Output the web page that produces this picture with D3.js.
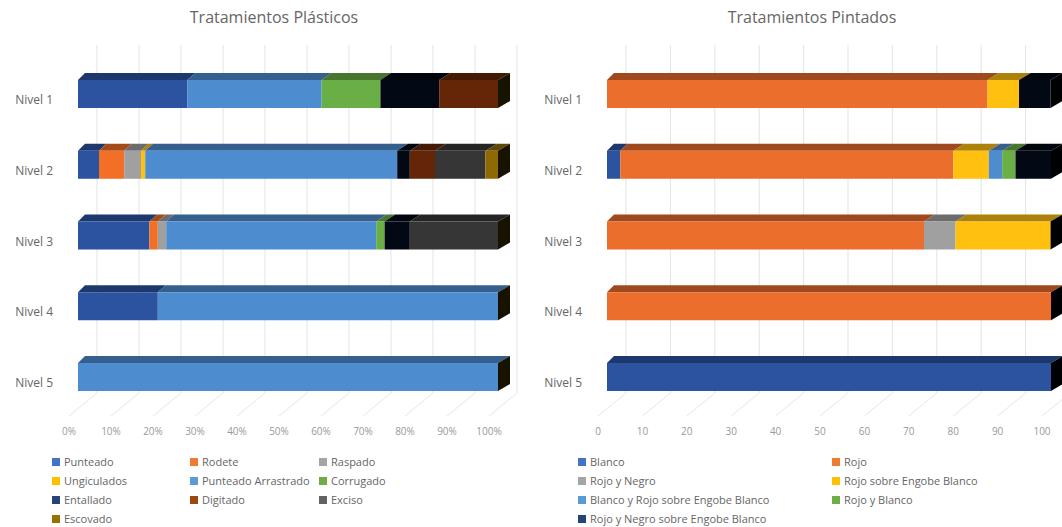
<!DOCTYPE html>
<html>
<head>
<meta charset="utf-8">
<script src="https://cdn.jsdelivr.net/npm/d3@7"></script>
<style>
  body { margin: 0; background: #fff; }
  text { font-family: "Open Sans", sans-serif; }
</style>
</head>
<body>
<svg id="chart" width="1062" height="527"></svg>
<script>
// categories
var niveles = ["Nivel 1", "Nivel 2", "Nivel 3", "Nivel 4", "Nivel 5"];
var ticks = [0, 10, 20, 30, 40, 50, 60, 70, 80, 90, 100];

// Tratamientos Plasticos (% per nivel)
var plasticosSeries = ["Punteado", "Rodete", "Raspado", "Ungiculados", "Punteado Arrastrado",
                       "Corrugado", "Entallado", "Digitado", "Exciso", "Escovado"];
var punteado           = [26,  5, 17, 19,   0];
var rodete             = [ 0,  6,  2,  0,   0];
var raspado            = [ 0,  4,  2,  0,   0];
var ungiculados        = [ 0,  1,  0,  0,   0];
var punteadoArrastrado = [32, 60, 50, 81, 100];
var corrugado          = [14,  0,  2,  0,   0];
var entallado          = [14,  3,  6,  0,   0];
var digitado           = [14,  6,  0,  0,   0];
var exciso             = [ 0, 12, 21,  0,   0];
var escovado           = [ 0,  3,  0,  0,   0];

// Tratamientos Pintados
var pintadosSeries = ["Blanco", "Rojo", "Rojo y Negro", "Rojo sobre Engobe Blanco",
                      "Blanco y Rojo sobre Engobe Blanco", "Rojo y Blanco", "Rojo y Negro sobre Engobe Blanco"];
var blanco          = [  0,  3,    0,   0, 100];
var rojo            = [85.7, 75, 71.4, 100,   0];
var rojoNegro       = [  0,  0,  7.1,   0,   0];
var rojoEngobe      = [7.1,  8, 21.4,   0,   0];
var blancoRojoEng   = [  0,  3,    0,   0,   0];
var rojoBlanco      = [  0,  3,    0,   0,   0];
var rojoNegroEng    = [7.1,  8,    0,   0,   0];

var svg = d3.select("#chart");

function drawChart(cfg)
{
    var g = svg.append("g");
    var x = d3.scaleLinear().domain([0, 100]).range([cfg.x0, cfg.x1]);
    var y = d3.scalePoint().domain(niveles).range([94, 377]);
    var barH = 28, depthY = 7, wallOff = 19;
    // a bit of perspective: depth shift grows to the right
    var dx = function(px){ return 7 + 5 * (px - cfg.x0) / (cfg.x1 - cfg.x0); };

    // back wall gridlines
    g.selectAll("line.grid").data(ticks).enter().append("line")
        .attr("class", "grid")
        .attr("x1", function(d){ return x(d) + wallOff; })
        .attr("x2", function(d){ return x(d) + wallOff; })
        .attr("y1", 45).attr("y2", 393)
        .attr("stroke", "#e3e3e3").attr("stroke-width", 1);

    // floor lines
    g.selectAll("line.floor").data(ticks).enter().append("line")
        .attr("class", "floor")
        .attr("x1", function(d){ return x(d) + wallOff; })
        .attr("x2", function(d){ return x(d) + wallOff - 28; })
        .attr("y1", 393).attr("y2", 416)
        .attr("stroke", "#e6e6e6").attr("stroke-width", 1);

    g.selectAll("text.tick").data(ticks).enter().append("text")
        .attr("class", "tick")
        .attr("x", function(d){ return x(d) - 9; })
        .attr("y", 435)
        .attr("text-anchor", "middle")
        .attr("font-size", "10px")
        .attr("fill", "#999999")
        .text(cfg.tickFormat);

    // titles and category labels
    g.append("text")
        .attr("x", cfg.titleX).attr("y", 23)
        .attr("text-anchor", "middle")
        .attr("font-size", "16px")
        .attr("fill", "#666666")
        .text(cfg.title);

    g.selectAll("text.cat").data(niveles).enter().append("text")
        .attr("class", "cat")
        .attr("x", cfg.labelX)
        .attr("y", function(d){ return y(d) + 10; })
        .attr("text-anchor", "end")
        .attr("font-size", "12px")
        .attr("fill", "#666666")
        .text(function(d){ return d; });

    // stacked 3d bars
    var rows = niveles.map(function(n, i){
        var r = {nivel: n};
        cfg.series.forEach(function(s, j){ r[s] = cfg.values[j][i]; });
        return r;
    });
    var layers = d3.stack().keys(cfg.series)(rows);

    layers.forEach(function(layer, j){
        var segs = layer.filter(function(d){ return d[1] - d[0] > 0; });
        var lg = g.append("g");
        lg.selectAll("polygon").data(segs).enter().append("polygon")
            .attr("points", function(d){
                var xa = x(d[0]), xb = x(d[1]), t = y(d.data.nivel) - barH / 2;
                return [[xa, t], [xb, t], [xb + dx(xb), t - depthY], [xa + dx(xa), t - depthY]].join(" ");
            })
            .attr("fill", d3.color(cfg.faceColors[j]).darker(1.1));
        lg.selectAll("rect").data(segs).enter().append("rect")
            .attr("x", function(d){ return x(d[0]); })
            .attr("width", function(d){ return x(d[1]) - x(d[0]); })
            .attr("y", function(d){ return y(d.data.nivel) - barH / 2; })
            .attr("height", barH)
            .attr("fill", cfg.faceColors[j]);
    });

    // end caps (side face of the last series)
    var capColor = d3.color(cfg.faceColors[cfg.series.length - 1]).darker(5);
    g.selectAll("polygon.cap").data(layers[layers.length - 1]).enter().append("polygon")
        .attr("class", "cap")
        .attr("points", function(d){
            var xb = x(d[1]), t = y(d.data.nivel) - barH / 2, o = dx(xb);
            return [[xb, t], [xb + o, t - depthY], [xb + o, t + barH - depthY], [xb, t + barH]].join(" ");
        })
        .attr("fill", capColor);

    // legend
    var lgd = g.selectAll("g.legend").data(cfg.series).enter().append("g")
        .attr("class", "legend")
        .attr("transform", function(d, i){
            var col = i % cfg.legendCols.length, row = Math.floor(i / cfg.legendCols.length);
            return "translate(" + cfg.legendCols[col] + "," + (462 + row * 19) + ")";
        });
    lgd.append("rect")
        .attr("x", 0).attr("y", -4).attr("width", 8).attr("height", 8)
        .attr("fill", function(d, i){ return cfg.legendColors[i]; });
    lgd.append("text")
        .attr("x", 12).attr("y", 4)
        .attr("font-size", "11px")
        .attr("fill", "#666666")
        .text(function(d){ return d; });
}

drawChart({
    title: "Tratamientos Plásticos",
    titleX: 274,
    labelX: 53,
    x0: 78, x1: 498,
    series: plasticosSeries,
    values: [punteado, rodete, raspado, ungiculados, punteadoArrastrado,
             corrugado, entallado, digitado, exciso, escovado],
    faceColors: ["#2B53A0", "#F26F25", "#A0A0A0", "#FFC010", "#4E8CD0",
                 "#6AAE46", "#020814", "#642607", "#363636", "#8E6904"],
    legendColors: ["#4472C4", "#ED7D31", "#A5A5A5", "#FFC000", "#5B9BD5",
                   "#70AD47", "#264478", "#9E480E", "#636363", "#997300"],
    tickFormat: function(d){ return d + "%"; },
    legendCols: [52, 190, 319]
});

drawChart({
    title: "Tratamientos Pintados",
    titleX: 812,
    labelX: 582,
    x0: 607, x1: 1051,
    series: pintadosSeries,
    values: [blanco, rojo, rojoNegro, rojoEngobe, blancoRojoEng, rojoBlanco, rojoNegroEng],
    faceColors: ["#2B53A0", "#EC6E2C", "#A0A0A0", "#FFC010", "#4E8CD0", "#6AAE46", "#020814"],
    legendColors: ["#4472C4", "#ED7D31", "#A5A5A5", "#FFC000", "#5B9BD5", "#70AD47", "#264478"],
    tickFormat: function(d){ return d; },
    legendCols: [578, 832]
});
</script>
</body>
</html>
